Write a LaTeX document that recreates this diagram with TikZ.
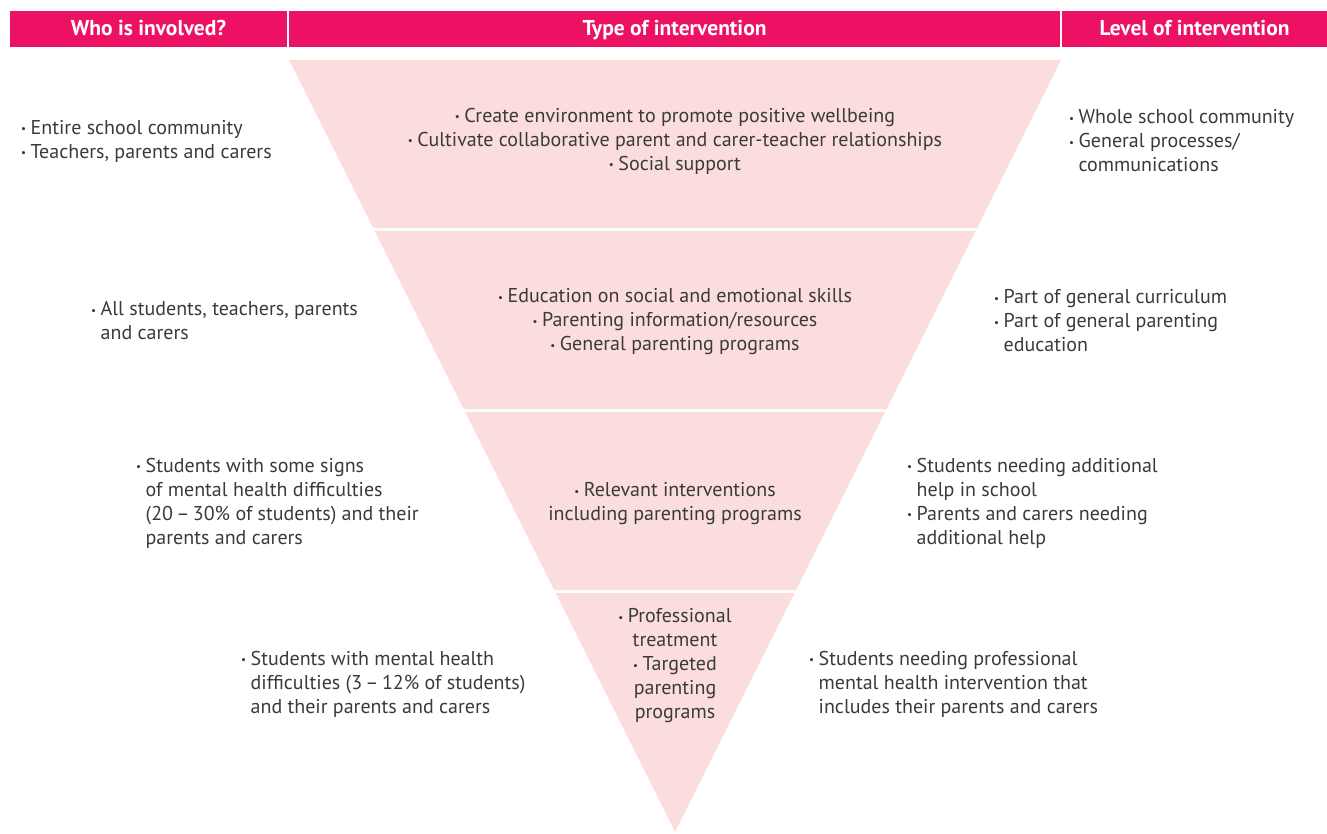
\documentclass[tikz,border=0pt]{standalone}
\usepackage{fontspec}
\setmainfont{PT Sans}
\definecolor{hdr}{HTML}{ED1164}
\definecolor{band}{HTML}{FBDDDE}
\definecolor{txt}{HTML}{3A3A3A}
\newcommand\bu{{\fontsize{11}{11}\selectfont\raisebox{0.35ex}{•}}\hspace{4.5pt}}
\newcommand\ind{\phantom{\bu}}
\begin{document}
\begin{tikzpicture}[x=1pt,y=-1pt,
  hdrbox/.style={fill=hdr,inner sep=0pt,text=white,font=\fontsize{21.5}{22}\selectfont\bfseries,minimum height=36pt,text height=14pt,text depth=0pt},
  body/.style={text=txt,font=\fontsize{20}{24}\selectfont,inner sep=0pt},
  lbody/.style={body,align=left,anchor=west},
  cbody/.style={body,align=center,anchor=center}]
\useasboundingbox (0,0) rectangle (1327,834);
% header
\node[hdrbox,minimum width=277pt] (h1) at (148.5,29) {Who is involved?};
\node[hdrbox,minimum width=771pt] (h2) at (674.5,29) {Type of intervention};
\node[hdrbox,minimum width=265pt] (h3) at (1194.5,29) {Level of intervention};
% bands
\fill[band] (289,60) -- (1061,60) -- (977,228) -- (373,228) -- cycle;
\fill[band] (374.5,231) -- (975.5,231) -- (886.5,409) -- (463.5,409) -- cycle;
\fill[band] (465,412) -- (885,412) -- (796,590) -- (554,590) -- cycle;
\fill[band] (555.5,593) -- (794.5,593) -- (675,832) -- cycle;
% row 1
\node[lbody] (l1) at (21,141) {\bu Entire school community\\\bu Teachers, parents and carers};
\node[cbody] (m1) at (675,141) {\bu Create environment to promote positive wellbeing\\\bu Cultivate collaborative parent and carer-teacher relationships\\\bu Social support};
\node[lbody] (r1) at (1069,141) {\bu Whole school community\\\bu General processes/\\\ind communications};
% row 2
\node[lbody] (l2) at (91,321) {\bu All students, teachers, parents\\\ind and carers};
\node[cbody] (m2) at (675,322) {\bu Education on social and emotional skills\\\bu Parenting information/resources\\\bu General parenting programs};
\node[lbody] (r2) at (994,321) {\bu Part of general curriculum\\\bu Part of general parenting\\\ind education};
% row 3
\node[lbody] (l3) at (136,503) {\bu Students with some signs\\\ind of mental health difficulties\\\ind (20\,–\,30\% of students) and their\\\ind parents and carers};
\node[cbody] (m3) at (675,504) {\bu Relevant interventions\\including parenting programs};
\node[lbody] (r3) at (907,503) {\bu Students needing additional\\\ind help in school\\\bu Parents and carers needing\\\ind additional help};
% row 4
\node[lbody] (l4) at (241,684) {\bu Students with mental health\\\ind difficulties (3\,–\,12\% of students)\\\ind and their parents and carers};
\node[cbody] (m4) at (675,666) {\bu Professional\\treatment\\\bu Targeted\\parenting\\programs};
\node[lbody] (r4) at (809,684) {\bu Students needing professional\\\ind mental health intervention that\\\ind includes their parents and carers};
\end{tikzpicture}
\end{document}
